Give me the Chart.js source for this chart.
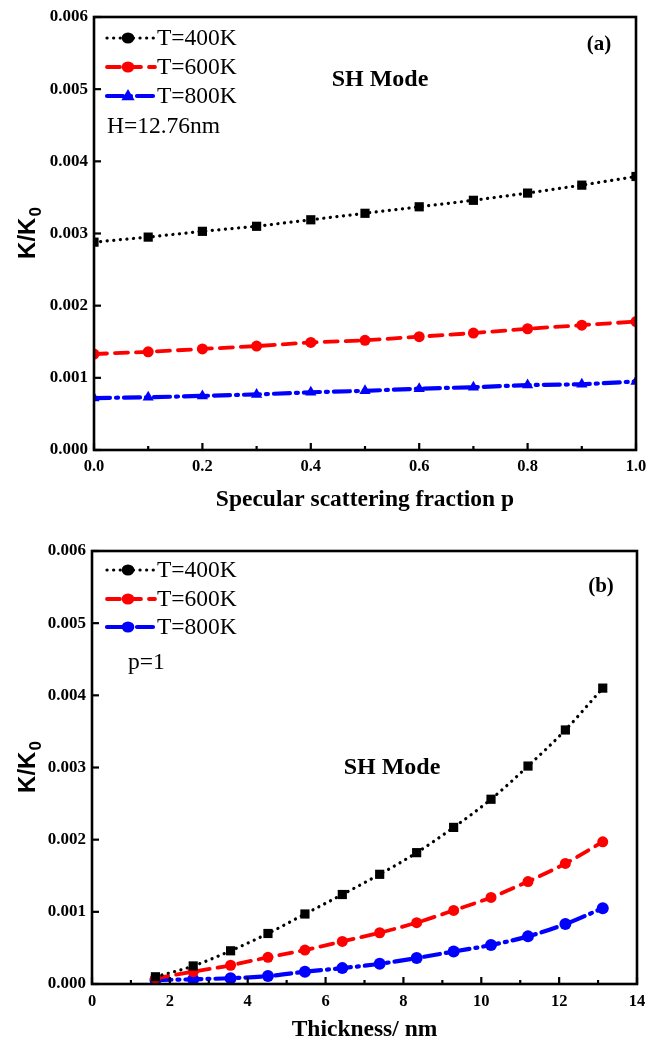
<!DOCTYPE html>
<html>
<head>
<meta charset="utf-8">
<script src="https://cdn.jsdelivr.net/npm/chart.js@4.4.0/dist/chart.umd.min.js"></script>
<style>
  body { margin: 0; background: #fff; }
  .panel { position: relative; width: 655px; height: 522px; }
</style>
</head>
<body>
<div class="panel"><canvas id="chartA" width="655" height="522"></canvas></div>
<div class="panel"><canvas id="chartB" width="655" height="522"></canvas></div>
<script>
// (a) conductivity ratio vs specular fraction p, H = 12.76 nm
const pFraction = [0, 0.1, 0.2, 0.3, 0.4, 0.5, 0.6, 0.7, 0.8, 0.9, 1.0];
const kappa400p = [0.00288, 0.00295, 0.00303, 0.00310, 0.00319, 0.00328, 0.00337, 0.00346, 0.00356, 0.00367, 0.00379];
const kappa600p = [0.00133, 0.00136, 0.00140, 0.00144, 0.00149, 0.00152, 0.00157, 0.00162, 0.00168, 0.00173, 0.00178];
const kappa800p = [0.00072, 0.00073, 0.00075, 0.00077, 0.00080, 0.00082, 0.00085, 0.00087, 0.00090, 0.00091, 0.00095];

// (b) conductivity ratio vs film thickness, p = 1
const thicknessNm = [1.63, 2.6, 3.56, 4.52, 5.47, 6.43, 7.39, 8.34, 9.29, 10.25, 11.2, 12.16, 13.12];
const kappa400t = [0.00010, 0.00025, 0.00046, 0.00070, 0.00097, 0.00124, 0.00152, 0.00182, 0.00217, 0.00256, 0.00302, 0.00352, 0.00410];
const kappa600t = [0.00008, 0.00017, 0.00026, 0.00037, 0.00047, 0.00059, 0.00071, 0.00085, 0.00102, 0.00120, 0.00142, 0.00167, 0.00197];
const kappa800t = [0.000055, 0.000065, 0.00008, 0.00011, 0.00017, 0.00022, 0.00028, 0.00036, 0.00045, 0.00054, 0.00066, 0.00083, 0.00105];

const seriesNames = ['T=400K', 'T=600K', 'T=800K'];
const yTickLabels = ['0.000', '0.001', '0.002', '0.003', '0.004', '0.005', '0.006'];
const xTickLabelsA = ['0.0', '0.2', '0.4', '0.6', '0.8', '1.0'];
const xTickLabelsB = ['0', '2', '4', '6', '8', '10', '12', '14'];

Chart.defaults.font.family = '"Liberation Serif", "Times New Roman", serif';
Chart.defaults.color = '#000';

const lineStyles = [
  { color: '#000', dash: [0.1, 6.5], width: 3.2 },
  { color: '#f00', dash: [13, 8], width: 3.8 },
  { color: '#00f', dash: [16, 6, 2, 6], width: 4.2 }
];

const toPoints = (xs, ys) => xs.map((x, i) => ({ x: x, y: ys[i] }));

function makeDataset(i, xs, ys, marker, radius, smooth) {
  const s = lineStyles[i];
  return {
    label: seriesNames[i],
    data: toPoints(xs, ys),
    borderColor: s.color,
    backgroundColor: s.color,
    borderWidth: s.width,
    borderDash: s.dash,
    borderCapStyle: 'round',
    pointStyle: marker,
    pointRadius: radius,
    pointBorderWidth: 0,
    cubicInterpolationMode: smooth ? 'monotone' : 'default',
    tension: 0
  };
}

function drawMarker(ctx, style, x, y, r, color) {
  ctx.save();
  ctx.setLineDash([]);
  ctx.fillStyle = color;
  ctx.beginPath();
  if (style === 'triangle') {
    ctx.moveTo(x, y - r);
    ctx.lineTo(x + r * 0.95, y + r * 0.6);
    ctx.lineTo(x - r * 0.95, y + r * 0.6);
    ctx.closePath();
  } else {
    ctx.ellipse(x, y, r * 1.15, r, 0, 0, Math.PI * 2);
  }
  ctx.fill();
  ctx.restore();
}

// frame, inward tick marks, in-plot legend and notes
const decorations = {
  id: 'decorations',
  afterDraw(chart, args, o) {
    const { ctx, chartArea: a, scales: { x, y } } = chart;
    ctx.save();
    ctx.strokeStyle = '#000';
    ctx.lineWidth = 2.6;
    ctx.strokeRect(a.left, a.top, a.right - a.left, a.bottom - a.top);

    ctx.lineWidth = 2.2;
    const seg = (x1, y1, x2, y2) => { ctx.beginPath(); ctx.moveTo(x1, y1); ctx.lineTo(x2, y2); ctx.stroke(); };
    x.ticks.forEach((t, i) => {
      const px = x.getPixelForValue(t.value);
      seg(px, a.bottom, px, a.bottom - 7);
      if (i < x.ticks.length - 1) {
        const m = x.getPixelForValue((t.value + x.ticks[i + 1].value) / 2);
        seg(m, a.bottom, m, a.bottom - 4);
      }
    });
    y.ticks.forEach(t => {
      const py = y.getPixelForValue(t.value);
      seg(a.left, py, a.left + 7, py);
    });

    // legend
    ctx.font = '23.5px "Liberation Serif"';
    ctx.textBaseline = 'middle';
    ctx.fillStyle = '#000';
    chart.data.datasets.forEach((ds, i) => {
      const ly = o.legendY[i];
      ctx.save();
      ctx.strokeStyle = ds.borderColor;
      ctx.lineWidth = ds.borderWidth;
      ctx.lineCap = 'round';
      ctx.setLineDash(ds.borderDash);
      seg(107, ly, 155, ly);
      ctx.restore();
      drawMarker(ctx, o.legendMarkers[i], 128, ly, o.legendMarkers[i] === 'triangle' ? 7 : 5.5, ds.borderColor);
      ctx.fillStyle = '#000';
      ctx.fillText(ds.label, 157, ly + 1);
    });

    // notes
    ctx.textAlign = 'left';
    ctx.fillText(o.note.text, o.note.x, o.note.y);
    ctx.font = 'bold 24px "Liberation Serif"';
    ctx.textAlign = 'center';
    ctx.fillText('SH Mode', o.mode.x, o.mode.y);
    ctx.font = 'bold 21px "Liberation Serif"';
    ctx.fillText(o.tag.text, o.tag.x, o.tag.y);

    // y title with subscript
    ctx.translate(27, (a.top + a.bottom) / 2);
    ctx.rotate(-Math.PI / 2);
    ctx.font = 'bold 24px "Liberation Sans"';
    ctx.textAlign = 'left';
    ctx.textBaseline = 'alphabetic';
    const main = 'K/K';
    const w1 = ctx.measureText(main).width;
    ctx.font = 'bold 17px "Liberation Sans"';
    const w2 = ctx.measureText('0').width;
    const x0 = -(w1 + w2) / 2;
    ctx.font = 'bold 24px "Liberation Sans"';
    ctx.fillText(main, x0, 8);
    ctx.font = 'bold 17px "Liberation Sans"';
    ctx.fillText('0', x0 + w1 + 1, 14);
    ctx.restore();
  }
};

function makeChart(id, cfg) {
  return new Chart(document.getElementById(id), {
    type: 'line',
    data: { datasets: cfg.datasets },
    options: {
      responsive: false,
      animation: false,
      layout: { padding: { top: cfg.top, right: cfg.right, left: 0, bottom: 0 } },
      plugins: {
        legend: { display: false },
        tooltip: { enabled: false },
        decorations: cfg.deco
      },
      scales: {
        x: {
          type: 'linear',
          min: cfg.xMin, max: cfg.xMax,
          grid: { display: false, drawTicks: false },
          border: { display: false },
          ticks: {
            stepSize: cfg.xStep,
            padding: cfg.xPad,
            maxRotation: 0,
            font: { size: 16.5, weight: 'bold' },
            callback: (v, i) => cfg.xLabels[i]
          },
          title: {
            display: true,
            text: cfg.xTitle,
            font: { size: 23.5, weight: 'bold' },
            padding: { top: 0, bottom: cfg.titlePad }
          },
          afterFit: s => { s.height = cfg.xHeight; }
        },
        y: {
          min: 0, max: 0.006,
          grid: { display: false, drawTicks: false },
          border: { display: false },
          ticks: {
            stepSize: 0.001,
            padding: 6,
            font: { size: 17, weight: 'bold' },
            callback: (v, i) => yTickLabels[i]
          },
          afterFit: s => { s.width = cfg.yWidth; }
        }
      }
    },
    plugins: [decorations]
  });
}

makeChart('chartA', {
  datasets: [
    makeDataset(0, pFraction, kappa400p, 'rect', 6.5, false),
    makeDataset(1, pFraction, kappa600p, 'circle', 5.5, false),
    makeDataset(2, pFraction, kappa800p, 'triangle', 6.5, false)
  ],
  top: 17, right: 19, yWidth: 94, xHeight: 72,
  xMin: 0, xMax: 1, xStep: 0.2, xPad: 7, xLabels: xTickLabelsA,
  xTitle: 'Specular scattering fraction p', titlePad: 8,
  deco: {
    legendY: [38, 67, 96],
    legendMarkers: ['circle', 'circle', 'triangle'],
    note: { text: 'H=12.76nm', x: 107, y: 127 },
    mode: { x: 380, y: 80 },
    tag: { text: '(a)', x: 599, y: 45 }
  }
});

makeChart('chartB', {
  datasets: [
    makeDataset(0, thicknessNm, kappa400t, 'rect', 6.5, true),
    makeDataset(1, thicknessNm, kappa600t, 'circle', 5.5, true),
    makeDataset(2, thicknessNm, kappa800t, 'circle', 6, true)
  ],
  top: 29, right: 18, yWidth: 92, xHeight: 60,
  xMin: 0, xMax: 14, xStep: 2, xPad: 8, xLabels: xTickLabelsB,
  xTitle: 'Thickness/ nm', titlePad: 0,
  deco: {
    legendY: [48, 77, 105],
    legendMarkers: ['circle', 'circle', 'circle'],
    note: { text: 'p=1', x: 128, y: 141 },
    mode: { x: 392, y: 246 },
    tag: { text: '(b)', x: 601, y: 65 }
  }
});
</script>
</body>
</html>
